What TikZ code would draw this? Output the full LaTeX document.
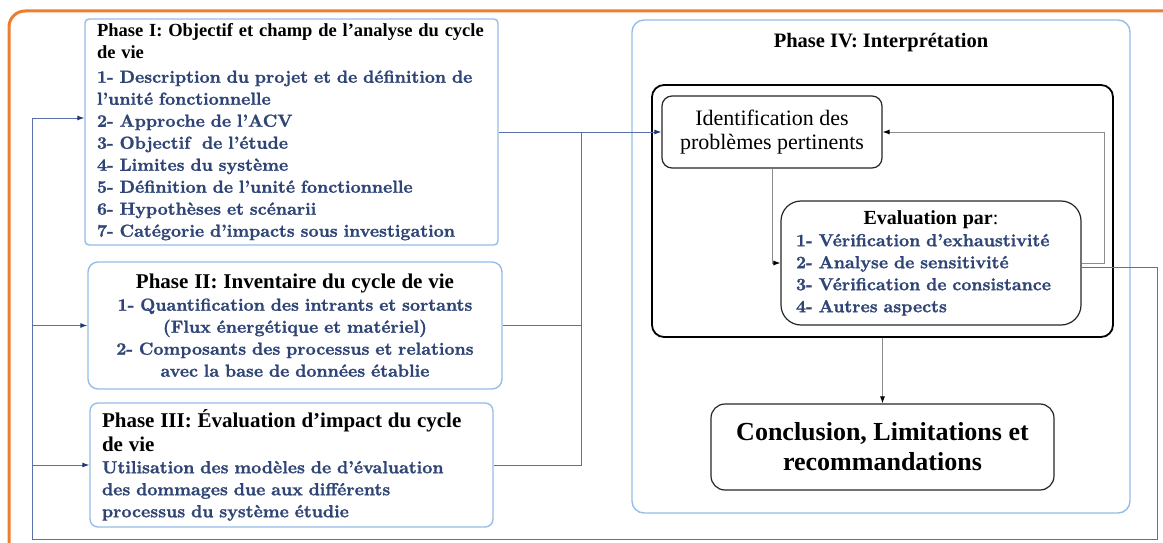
\documentclass[tikz,border=0pt]{standalone}
\usepackage{fontspec}
\newfontfamily\tnr{Liberation Serif}
\newfontfamily\itemfont{lmroman10-bold.otf}[FakeBold=1.2]
\usetikzlibrary{arrows.meta}

\definecolor{frameorange}{HTML}{ED7D31}
\definecolor{phaseblue}{HTML}{95BDE8}
\definecolor{linkblue}{HTML}{5A70A8}
\definecolor{tipblue}{HTML}{1F3A70}
\definecolor{itemblue}{HTML}{2F4576}
\definecolor{loopgray}{HTML}{8C8C8C}

% black bold heading inside a phase box (optional size)
\newcommand{\phtitle}[2][21]{{\tnr\bfseries\color{black}\fontsize{#1}{22}\selectfont #2}}

\tikzset{
  phasebox/.style={draw=phaseblue, line width=1.4pt, inner xsep=12pt, inner ysep=0pt,
    text=itemblue, font=\itemfont\fontsize{17.5}{22}\selectfont},
  blackbox/.style={draw=black!85, line width=1.2pt, inner sep=0pt},
  linkline/.style={draw=linkblue, line width=0.9pt},
  link/.style={linkline, -{Latex[length=7pt,width=5pt,color=tipblue]}},
  loopline/.style={draw=loopgray, line width=0.9pt, -{Latex[length=7pt,width=5pt,color=black]}}
}

\begin{document}
\begin{tikzpicture}[x=1pt,y=-1pt]
\useasboundingbox (0,0) rectangle (1163,543);

% outer orange frame
\draw[frameorange, line width=3pt, rounded corners=16pt] (9,570) -- (9,11) -- (1190,11);

% ---- phases I to III ----
\node[phasebox, rounded corners=4pt, minimum width=413pt, minimum height=226pt,
      text width=389pt, align=left] (p1) at (291.5,132)
  {\phtitle[18.5]{Phase I: Objectif et champ de l’analyse du cycle}\\
   \phtitle[18.5]{de vie}\\[2pt]
   1- Description du projet et de définition de\\
   l’unité fonctionnelle\\
   2- Approche de l’ACV\\
   3- Objectif\ \ de l’étude\\
   4- Limites du système\\
   5- Définition de l’unité fonctionnelle\\
   6- Hypothèses et scénarii\\
   7- Catégorie d’impacts sous investigation};

\node[phasebox, rounded corners=10pt, minimum width=414pt, minimum height=127pt,
      text width=390pt, align=center] (p2) at (295,325.5)
  {\phtitle{Phase II: Inventaire du cycle de vie}\\
   1- Quantification des intrants et sortants\\
   (Flux énergétique et matériel)\\
   2- Composants des processus et relations\\
   avec la base de données établie};

\node[phasebox, rounded corners=8pt, minimum width=403pt, minimum height=124pt,
      text width=379pt, align=left] (p3) at (291.5,465)
  {\phtitle{Phase III: Évaluation d’impact du cycle}\\[2pt]
   \phtitle{de vie}\\
   Utilisation des modèles de d’évaluation\\
   des dommages due aux différents\\
   processus du système étudie};

% ---- phase IV ----
\node[draw=phaseblue, line width=1.4pt, rounded corners=12pt, minimum width=498pt,
      minimum height=493pt, inner sep=0pt] (p4) at (881,266.5) {};
\node[font=\tnr\bfseries\fontsize{20.5}{22}\selectfont] (p4t) at (881,43)
  {Phase IV: Interprétation};

\node[draw=black, line width=1.8pt, rounded corners=12pt, minimum width=461pt,
      minimum height=252pt, inner sep=0pt] (bb) at (882.5,211) {};

\node[blackbox, rounded corners=10pt, minimum width=220pt, minimum height=72pt,
      align=center, font=\tnr\fontsize{22}{24}\selectfont] (idf) at (772,132)
  {Identification des\\ problèmes pertinents};

\node[blackbox, rounded corners=20pt, minimum width=300pt, minimum height=124pt,
      text width=270pt, align=left, text=itemblue,
      font=\itemfont\fontsize{17.5}{22}\selectfont] (ev) at (931,263)
  {\makebox[270pt][c]{\tnr\color{black}\fontsize{20}{22}\selectfont\textbf{Evaluation par}:}\\
   1- Vérification d’exhaustivité\\
   2- Analyse de sensitivité\\
   3- Vérification de consistance\\
   4- Autres aspects};

\node[blackbox, rounded corners=14pt, minimum width=343pt, minimum height=86pt,
      align=center, font=\tnr\bfseries\fontsize{26}{30}\selectfont] (con) at (882.5,447)
  {Conclusion, Limitations et\\ recommandations};

% ---- connectors ----
\coordinate (jx) at (581,132);
\draw[link] (p1.east) -- (idf.west);
\draw[linkline] (p2.east) -| (jx);
\draw[linkline] (p3.east) -| (jx);

\coordinate (lp) at (1104,132);
\draw[loopline] (ev.east) -| (lp) -- (idf.east);
\draw[loopline] (idf.south) |- (ev.west);
\draw[loopline] (bb.south) -- (con.north);

% feedback loop back to the first phases
\coordinate (fbtop) at (1157,267);
\coordinate (fbbot) at (1157,539);
\coordinate (fbleft) at (32,539);
\coordinate (fbup) at (32,118);
\draw[linkline] ([yshift=-4pt]ev.east) -- (fbtop) -- (fbbot) -- (fbleft) -- (fbup);
\draw[link] (fbup) -- (fbup -| p1.west);
\draw[link] (fbleft |- p2.west) -- (p2.west);
\draw[link] (fbleft |- p3.west) -- (p3.west);
\end{tikzpicture}
\end{document}
